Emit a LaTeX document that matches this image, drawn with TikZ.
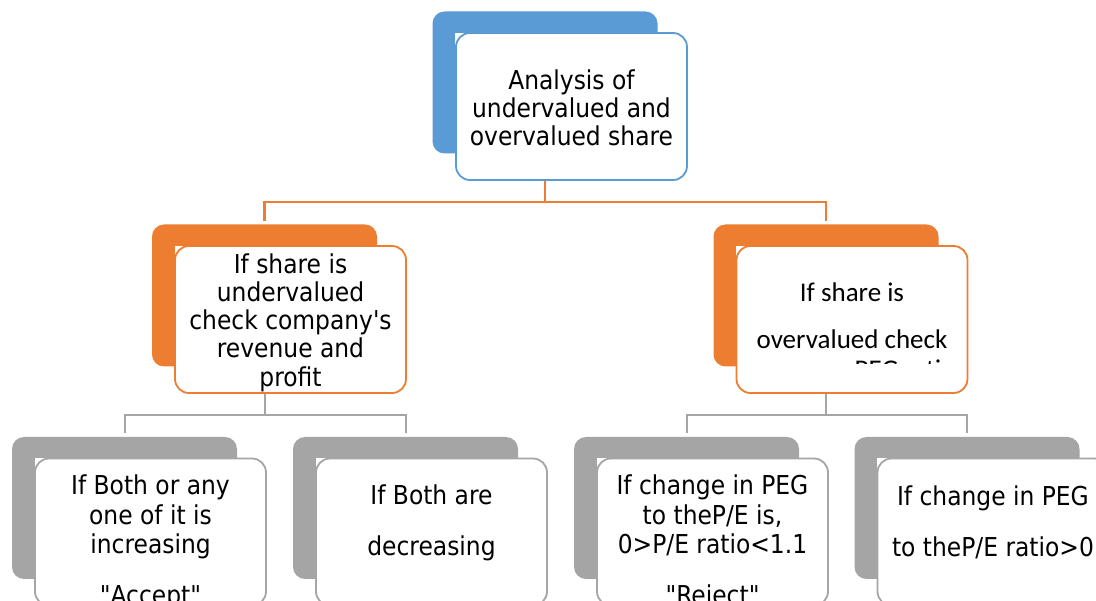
\documentclass[tikz,border=0pt]{standalone}
\usepackage{fontspec}
\setmainfont{DejaVu Sans Condensed}[Ligatures=TeXOff]
\newfontfamily\calibrilike{Carlito}
\usepackage{xcolor}
\usepackage{tikz}
\usetikzlibrary{calc}

\definecolor{shareblue}{HTML}{5B9BD5}
\definecolor{shareorange}{HTML}{ED7D31}
\definecolor{sharegray}{HTML}{A5A5A5}

\tikzset{
  backbox/.style={rectangle, rounded corners=12pt, minimum width=225pt, minimum height=142pt, inner sep=0pt},
  frontbox/.style={rectangle, rounded corners=14pt, line width=1.8pt, fill=white, minimum width=231pt, minimum height=147pt, inner sep=0pt},
  boxtext/.style={align=center, inner sep=0pt, font=\fontsize{26}{29.5}\selectfont},
  orangelink/.style={draw=shareorange, line width=2.6pt},
  graylink/.style={draw=sharegray, line width=2pt}
}

\begin{document}
\begin{tikzpicture}[x=1pt, y=-1pt]

% Page frame
\useasboundingbox (0,0) rectangle (1096,601);
\clip (0,0) rectangle (1096,601);

% Back shapes
\node[backbox, fill=shareblue] (topback) at (545,82.5) {};
\node[backbox, fill=shareorange] (undback) at (264.5,295.5) {};
\node[backbox, fill=shareorange] (ovback) at (826,295.5) {};
\node[backbox, fill=sharegray] (acceptback) at (124.5,508) {};
\node[backbox, fill=sharegray] (decback) at (405.5,508) {};
\node[backbox, fill=sharegray] (rejectback) at (686.5,508) {};
\node[backbox, fill=sharegray] (ratioback) at (967,508) {};

% White corners under the front shapes
\foreach \b in {topback,undback,ovback,acceptback,decback,rejectback,ratioback}
  \fill[white] ([shift={(23,21.5)}]\b.north west) rectangle ++(12,12);

% Front shapes
\node[frontbox, draw=shareblue] (topfront) at (571.5,106.5) {};
\node[frontbox, draw=shareorange] (undfront) at (290.5,319.5) {};
\node[frontbox, draw=shareorange] (ovfront) at (852,319.5) {};
\node[frontbox, draw=sharegray] (acceptfront) at (150.5,532) {};
\node[frontbox, draw=sharegray] (decfront) at (431.5,532) {};
\node[frontbox, draw=sharegray] (rejectfront) at (712.5,532) {};
\node[frontbox, draw=sharegray] (ratiofront) at (993,532) {};

% Texts
\node[boxtext, font=\fontsize{26}{28}\selectfont] (toptext) at (571.5,108) {Analysis of\\undervalued and\\overvalued share};
\node[boxtext, font=\fontsize{26}{28.2}\selectfont] (undtext) at (290.5,322.5) {If share is\\undervalued\\check company's\\revenue and\\profit};
\begin{scope}
  \clip (ovfront.north west) rectangle ([yshift=30pt]ovfront.south east);
  \node[boxtext, font=\calibrilike\fontsize{27}{47}\selectfont] (ovtext) at (852,333) {If share is\\overvalued check\\[-16.5pt]company PEG ratio};
\end{scope}
\node[boxtext] (accepttext) at (150.5,542.5) {If Both or any\\one of it is\\increasing\\[21.5pt]"Accept"};
\node[boxtext] (dectext) at (431.5,522.5) {If Both are\\[21.5pt]decreasing};
\node[boxtext] (rejecttext) at (712.5,542.5) {If change in PEG\\to theP/E is,\\0>P/E ratio<1.1\\[21.5pt]"Reject"};
\node[boxtext] (ratiotext) at (993,522.5) {If change in PEG\\[21.5pt]to theP/E ratio>0};

% Connectors
\draw[orangelink] (topback.center |- topfront.south) -- ++(0,21) -| ([yshift=3pt]undback.north);
\draw[orangelink] (topback.center |- topfront.south) -- ++(0,21) -| ([yshift=3pt]ovback.north);
\draw[graylink] (undback.center |- undfront.south) -- ++(0,21) -| ([yshift=4pt]acceptback.north);
\draw[graylink] (undback.center |- undfront.south) -- ++(0,21) -| ([yshift=4pt]decback.north);
\draw[graylink] (ovback.center |- ovfront.south) -- ++(0,21) -| ([yshift=4pt]rejectback.north);
\draw[graylink] (ovback.center |- ovfront.south) -- ++(0,21) -| ([yshift=4pt]ratioback.north);

\end{tikzpicture}
\end{document}
